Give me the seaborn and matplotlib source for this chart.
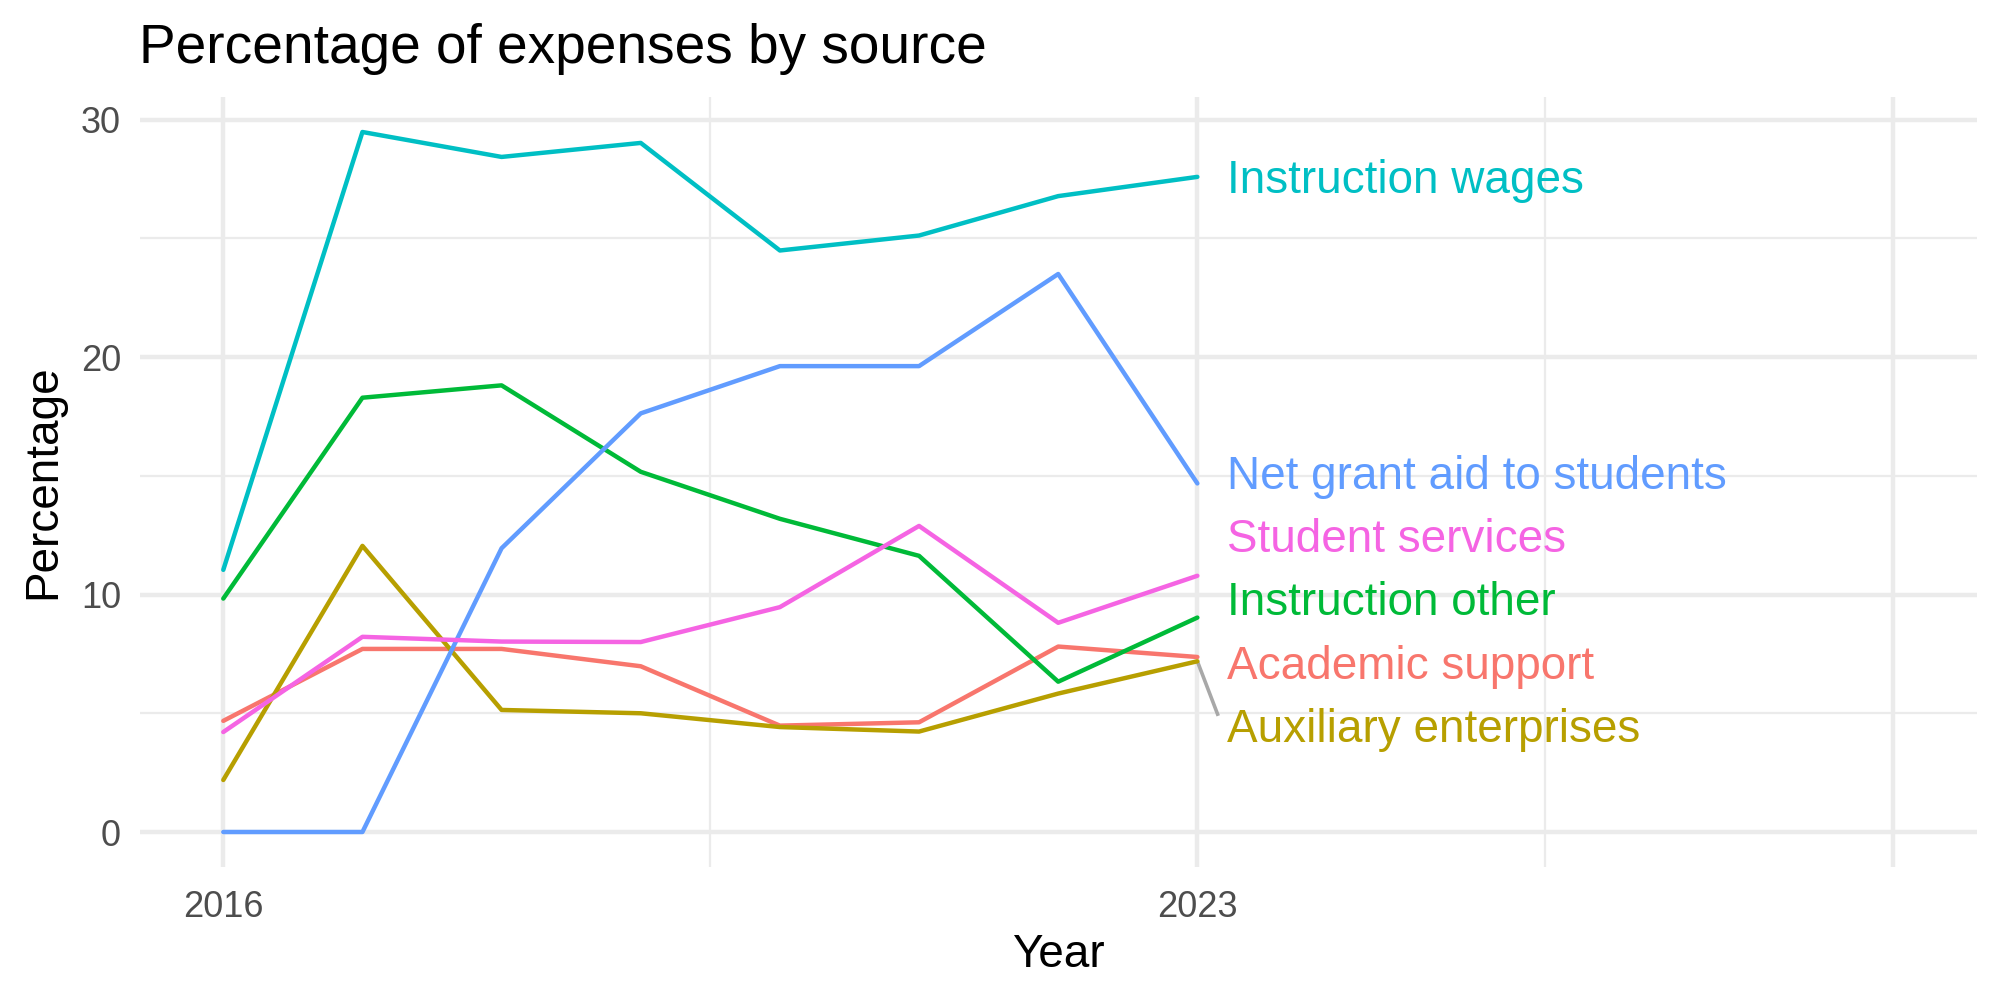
import numpy as np
import pandas as pd
import matplotlib
matplotlib.use("Agg")
import matplotlib.pyplot as plt
import seaborn as sns

# ---------------- data ----------------
years = [2016, 2017, 2018, 2019, 2020, 2021, 2022, 2023]
sources = ["Academic support", "Auxiliary enterprises", "Instruction other",
           "Instruction wages", "Net grant aid to students", "Student services"]
academic_support = [4.68, 7.71, 7.71, 6.98, 4.48, 4.62, 7.81, 7.37]
auxiliary_enterprises = [2.19, 12.05, 5.14, 5.00, 4.42, 4.23, 5.83, 7.19]
instruction_other = [9.83, 18.29, 18.81, 15.17, 13.19, 11.63, 6.33, 9.03]
instruction_wages = [11.04, 29.48, 28.43, 29.02, 24.49, 25.12, 26.78, 27.59]
net_grant_aid = [0.0, 0.0, 11.95, 17.63, 19.62, 19.62, 23.50, 14.68]
student_services = [4.21, 8.22, 8.02, 8.00, 9.47, 12.89, 8.81, 10.79]
colors = ["#F8766D", "#B79F00", "#00BA38", "#00BFC4", "#619CFF", "#F564E3"]
x_tick_values = [2016, 2023, 2028]
x_tick_labels = ["2016", "2023", ""]
y_tick_values = [0, 10, 20, 30]

series = [academic_support, auxiliary_enterprises, instruction_other,
          instruction_wages, net_grant_aid, student_services]
df = pd.DataFrame({
    "Year": np.tile(years, len(sources)),
    "Percentage": np.concatenate(series),
    "Source": np.repeat(sources, len(years)),
})

# ---------------- style ----------------
sns.set_style("white")
plt.rcParams["font.family"] = ["Liberation Sans", "DejaVu Sans"]

fig = plt.figure(figsize=(10, 5), dpi=200)
ax = fig.add_axes([0.0699, 0.133, 0.9184, 0.770])

palette = dict(zip(sources, colors))
sns.lineplot(data=df, x="Year", y="Percentage", hue="Source", hue_order=sources,
             palette=palette, linewidth=1.6, legend=False, ax=ax,
             estimator=None, sort=True, zorder=3)

# axis limits (ggplot-style 5% expansion)
xr = (2016, 2028)
ax.set_xlim(xr[0] - 0.05 * (xr[1] - xr[0]), xr[1] + 0.05 * (xr[1] - xr[0]))
ymin, ymax = df["Percentage"].min(), df["Percentage"].max()
ax.set_ylim(ymin - 0.05 * (ymax - ymin), ymax + 0.05 * (ymax - ymin))

ax.set_xticks(x_tick_values)
ax.set_xticklabels(x_tick_labels)
ax.set_xticks([2019.5, 2025.5], minor=True)
ax.set_yticks(y_tick_values)
ax.set_yticks([5, 15, 25], minor=True)

ax.grid(which="major", color="#EBEBEB", linewidth=1.6, zorder=0)
ax.grid(which="minor", color="#EBEBEB", linewidth=0.8, zorder=0)
ax.set_axisbelow(True)
for s in ax.spines.values():
    s.set_visible(False)
ax.tick_params(axis="both", which="both", length=0, labelsize=13,
               labelcolor="#4D4D4D")
ax.tick_params(axis="x", pad=8.4)
ax.tick_params(axis="y", pad=6.8)

ax.set_xlabel("Year", fontsize=16.5, color="black")
ax.set_ylabel("Percentage", fontsize=16.5, color="black")
ax.xaxis.set_label_coords(0.5, -0.086)
ax.yaxis.set_label_coords(-0.0405, 0.5)

fig.text(0.0695, 0.937, "Percentage of expenses by source", fontsize=19.8,
         ha="left", va="baseline", color="black")

# ---------------- repelled end labels ----------------
last_year = years[-1]
last_vals = [(src, vals[-1]) for src, vals in zip(sources, series)]
last_vals.sort(key=lambda t: -t[1])
gap = 2.66
clusters = []
for name, v in last_vals:
    clusters.append([(name, v)])
    while len(clusters) >= 2:
        prev, cur = clusters[-2], clusters[-1]
        pc = np.mean([m[1] for m in prev])
        cc = np.mean([m[1] for m in cur])
        prev_bottom = pc - (len(prev) - 1) / 2 * gap
        cur_top = cc + (len(cur) - 1) / 2 * gap
        if prev_bottom - cur_top < gap:
            clusters[-2] = prev + cur
            clusters.pop()
        else:
            break

label_pos = {}
for cl in clusters:
    c = np.mean([m[1] for m in cl])
    n = len(cl)
    for k, (name, v) in enumerate(cl):
        label_pos[name] = (c + ((n - 1) / 2 - k) * gap, v)

for name in sources:
    ly, v = label_pos[name]
    ax.annotate(name, xy=(last_year + 0.21, ly), xytext=(0, -5.9),
                textcoords="offset points", ha="left", va="baseline",
                fontsize=16.5, color=palette[name], zorder=4)
    if abs(ly - v) > 2.0:
        ax.plot([last_year, last_year + 0.15], [v, ly + 0.4],
                color="#A8A8A8", linewidth=1.3, zorder=2, solid_capstyle="butt")

fig.savefig("out.png", dpi=200, facecolor="white")
